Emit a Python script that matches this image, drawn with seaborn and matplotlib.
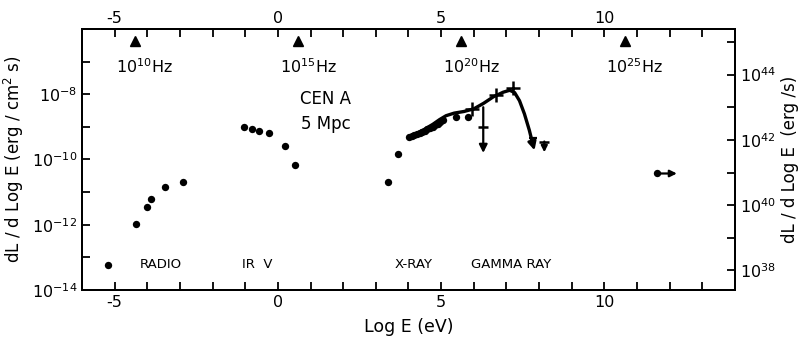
import numpy as np
import pandas as pd
import matplotlib
matplotlib.use("Agg")
import matplotlib.pyplot as plt
import seaborn as sns

# ---------------- data (log10 E [eV], log10 flux) ----------------
radio_logE = [-5.21, -4.36, -4.02, -3.90, -3.47, -2.92]
radio_logF = [-13.23, -11.97, -11.45, -11.20, -10.83, -10.68]

irv_logE = [-1.04, -0.80, -0.58, -0.27, 0.21, 0.52]
irv_logF = [-9.02, -9.08, -9.14, -9.20, -9.60, -10.18]

xray_logE = [3.37, 3.68, 4.02, 4.10, 4.18, 4.26, 4.34, 4.42, 4.50, 4.58, 4.66,
             4.74, 4.82, 4.90, 4.98, 5.06, 5.46, 5.83]
xray_logF = [-10.68, -9.82, -9.32, -9.29, -9.26, -9.23, -9.20, -9.16, -9.12,
             -9.08, -9.04, -9.00, -8.95, -8.90, -8.84, -8.78, -8.71, -8.71]

curve_logE = [4.00, 4.25, 4.50, 4.75, 4.95, 5.15, 5.40, 5.70, 6.00, 6.30, 6.60,
              6.90, 7.10, 7.25, 7.40, 7.55, 7.70, 7.80]
curve_logF = [-9.33, -9.20, -9.07, -8.92, -8.78, -8.66, -8.58, -8.53, -8.45,
              -8.28, -8.08, -7.94, -7.88, -7.95, -8.20, -8.60, -9.10, -9.50]

cross_logE = [5.95, 6.69, 7.20]
cross_logF = [-8.45, -8.02, -7.82]

uplim_logE = [6.29, 8.16]
uplim_top = [-8.40, -9.45]
uplim_tip = [-9.80, -9.78]

lowlim_logE = [11.6]
lowlim_logF = [-10.43]

band_names = ["RADIO", "IR  V", "X-RAY", "GAMMA RAY"]
band_logE = [-3.59, -0.64, 4.17, 7.15]

hz_names = ["$10^{10}$Hz", "$10^{15}$Hz", "$10^{20}$Hz", "$10^{25}$Hz"]
hz_logE = [-4.38, 0.62, 5.62, 10.62]

left_ticks = [-14, -12, -10, -8]
right_ticks = [38, 40, 42, 44]
x_labels = [-5, 0, 5, 10]
LOG_K = 51.4  # log10(4 pi d^2) for 5 Mpc

# ---------------- style ----------------
sns.set_style("ticks")
plt.rcParams["font.family"] = ["DejaVu Sans"]
plt.rcParams["mathtext.default"] = "regular"
for key in ("text.color", "axes.labelcolor", "xtick.color", "ytick.color",
            "axes.edgecolor"):
    plt.rcParams[key] = "black"

fig = plt.figure(figsize=(7.98, 3.40), dpi=100)
ax = fig.add_axes([0.1028, 0.147, 0.8182, 0.768])

pts = pd.DataFrame({
    "E": radio_logE + irv_logE + xray_logE + lowlim_logE,
    "F": [10 ** v for v in radio_logF + irv_logF + xray_logF + lowlim_logF],
})

sns.scatterplot(data=pts, x="E", y="F", ax=ax, color="black", s=28,
                edgecolor="black", linewidth=0, legend=False, zorder=3)

curve = pd.DataFrame({"E": curve_logE, "F": [10 ** v for v in curve_logF]})
sns.lineplot(data=curve, x="E", y="F", ax=ax, color="black", lw=2.4,
             sort=False, estimator=None, zorder=3)

cross = pd.DataFrame({"E": cross_logE, "F": [10 ** v for v in cross_logF]})
sns.scatterplot(data=cross, x="E", y="F", ax=ax, marker="+", s=90,
                color="black", linewidth=1.8, legend=False, zorder=4)

ax.set_yscale("log")
ax.set_xlim(-6, 14)
ax.set_ylim(1e-14, 1e-6)

# curve end arrowhead
ax.annotate("", xy=(7.86, 10 ** -9.72), xytext=(curve_logE[-1], 10 ** curve_logF[-1]),
            arrowprops=dict(arrowstyle="-|>", color="black", lw=2,
                            mutation_scale=12, shrinkA=0, shrinkB=0))
# upper limits
for e, t, tip, ms in zip(uplim_logE, uplim_top, uplim_tip, [12, 9]):
    ax.annotate("", xy=(e, 10 ** tip), xytext=(e, 10 ** t),
                arrowprops=dict(arrowstyle="-|>", color="black", lw=1.6,
                                mutation_scale=ms, shrinkA=0, shrinkB=0))
ax.plot([uplim_logE[0]], [10 ** -9.0], marker="_", ms=7, mew=1.8, color="black")
ax.plot([uplim_logE[1]], [10 ** uplim_top[1]], marker="_", ms=7, mew=1.8, color="black")
ax.plot([7.82], [10 ** -9.35], marker="_", ms=6, mew=1.6, color="black")
# lower limit (arrow to the right)
for e, f in zip(lowlim_logE, lowlim_logF):
    ax.annotate("", xy=(e + 0.62, 10 ** f), xytext=(e, 10 ** f),
                arrowprops=dict(arrowstyle="-|>", color="black", lw=1.6,
                                mutation_scale=10, shrinkA=0, shrinkB=0))

# band labels
for name, e in zip(band_names, band_logE):
    ax.text(e, 10 ** -13.23, name, ha="center", va="center", fontsize=9.5)

ax.text(1.47, 10 ** -8.15, "CEN A", ha="center", va="center", fontsize=12)
ax.text(1.47, 10 ** -8.92, "5 Mpc", ha="center", va="center", fontsize=12)

# frequency markers
for name, e in zip(hz_names, hz_logE):
    ax.plot([e], [0.955], marker="^", ms=7, color="black",
            transform=ax.get_xaxis_transform(), clip_on=False)
    ax.text(e + 0.3, 0.855, name, ha="center", va="center", fontsize=11.5,
            transform=ax.get_xaxis_transform())

# bottom axis
ax.set_xticks(np.arange(-5, 14))
ax.set_xticklabels([str(v) if v in x_labels else "" for v in range(-5, 14)])
ax.set_yticks([10.0 ** k for k in range(-14, -5)])
ax.set_yticklabels(["$10^{%d}$" % k if k in left_ticks else "" for k in range(-14, -5)])
ax.yaxis.set_minor_locator(matplotlib.ticker.NullLocator())
ax.tick_params(axis="both", which="major", direction="in", length=6, width=1.3,
               labelsize=11.5, color="black")
ax.set_xlabel("Log E (eV)", fontsize=12.5, labelpad=6)
ax.set_ylabel("dL / d Log E (erg / cm$^2$ s)", fontsize=12)

# top axis
axt = ax.twiny()
axt.set_xlim(ax.get_xlim())
axt.set_xticks(np.arange(-5, 14))
axt.set_xticklabels([str(v) if v in x_labels else "" for v in range(-5, 14)])
axt.tick_params(axis="x", direction="in", length=6, width=1.3, labelsize=11.5, pad=2)

# right axis
axr = ax.twinx()
axr.set_yscale("log")
axr.set_ylim(10 ** (-14 + LOG_K), 10 ** (-6 + LOG_K))
axr.set_yticks([10.0 ** k for k in range(38, 46)])
axr.set_yticklabels(["$10^{%d}$" % k if k in right_ticks else "" for k in range(38, 46)])
axr.yaxis.set_minor_locator(matplotlib.ticker.NullLocator())
axr.tick_params(axis="y", direction="in", length=6, width=1.3, labelsize=11.5)
axr.set_ylabel("dL / d Log E  (erg /s)", fontsize=12, rotation=90, labelpad=4)

for a in (ax, axt, axr):
    for sp in a.spines.values():
        sp.set_linewidth(1.4)
        sp.set_color("black")
        sp.set_visible(True)

fig.savefig("out.png", dpi=100)
